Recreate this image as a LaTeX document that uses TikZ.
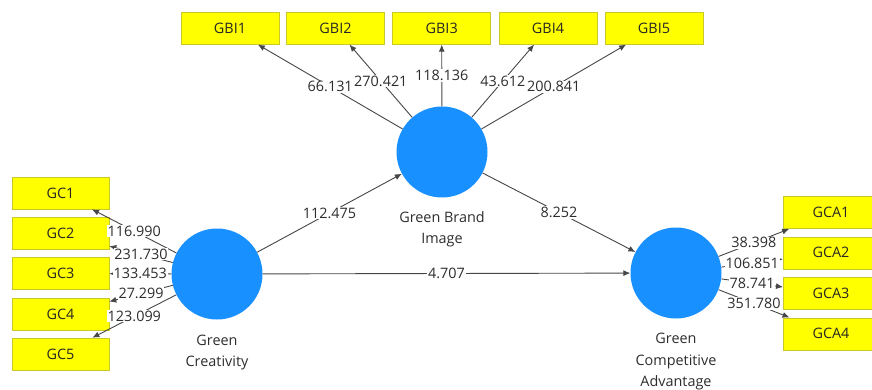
\documentclass[tikz,border=0pt]{standalone}
\usepackage{fontspec}
\setmainfont{Open Sans}
\usetikzlibrary{arrows.meta}
\definecolor{lvblue}{RGB}{24,144,255}
\definecolor{indyel}{RGB}{255,255,0}
\definecolor{indbord}{RGB}{200,200,40}
\definecolor{edgegray}{RGB}{70,70,70}
\definecolor{txtgray}{RGB}{45,45,45}
\begin{document}
\begin{tikzpicture}[x=1pt,y=-1pt,
  latent/.style={circle, fill=lvblue, minimum size=91pt, inner sep=0pt},
  lvlabel/.style={align=center, text=txtgray, inner sep=0pt, font=\fontsize{14.4}{21.5}\selectfont},
  indbox/.style={rectangle, fill=indyel, draw=indbord, line width=0.6pt, minimum height=32pt, inner sep=0pt, text=black!85, font=\fontsize{14.4}{17}\selectfont},
  gcbox/.style={indbox, minimum width=97pt},
  gbibox/.style={indbox, minimum width=98pt},
  gcabox/.style={indbox, minimum width=95.4pt},
  lnk/.style={draw=edgegray, line width=0.9pt, -{Latex[length=7pt,width=6pt]}},
  wt/.style={fill=white, inner sep=0.8pt, text=txtgray, font=\fontsize{14.4}{17}\selectfont}
]
\useasboundingbox (0,0) rectangle (872,390);
\clip (0,0) rectangle (872,390);

% latent variables
\node[latent] (GC)  at (217,274) {};
\node[latent] (GBI) at (442,152) {};
\node[latent] (GCA) at (676,273) {};
\node[lvlabel] (GCl)  at (217,352.5) {Green\\Creativity};
\node[lvlabel] (GBIl) at (442,229.5) {Green Brand\\Image};
\node[lvlabel] (GCAl) at (676,362) {Green\\Competitive\\Advantage};

% indicators
\node[gcbox] (GC1) at (60.5,193) {GC1};
\node[gcbox] (GC2) at (60.5,233.5) {GC2};
\node[gcbox] (GC3) at (60.5,273.5) {GC3};
\node[gcbox] (GC4) at (60.5,314) {GC4};
\node[gcbox] (GC5) at (60.5,354) {GC5};

\node[gbibox] (GBI1) at (230,28.3) {GBI1};
\node[gbibox] (GBI2) at (335.5,28.3) {GBI2};
\node[gbibox] (GBI3) at (441.7,28.3) {GBI3};
\node[gbibox] (GBI4) at (548,28.3) {GBI4};
\node[gbibox] (GBI5) at (654,28.3) {GBI5};

\node[gcabox] (GCA1) at (831,212.7) {GCA1};
\node[gcabox] (GCA2) at (831,252.8) {GCA2};
\node[gcabox] (GCA3) at (831,293.3) {GCA3};
\node[gcabox] (GCA4) at (831,333.8) {GCA4};

% outer model
\draw[lnk] (GC) -- node[wt] {116.990} (GC1);
\draw[lnk] (GC) -- node[wt] {231.730} (GC2);
\draw[lnk] (GC) -- node[wt] {133.453} (GC3);
\draw[lnk] (GC) -- node[wt] {27.299} (GC4);
\draw[lnk] (GC) -- node[wt] {123.099} (GC5);

\draw[lnk] (GBI) -- node[wt] {66.131} (GBI1);
\draw[lnk] (GBI) -- node[wt] {270.421} (GBI2);
\draw[lnk] (GBI) -- node[wt] {118.136} (GBI3);
\draw[lnk] (GBI) -- node[wt] {43.612} (GBI4);
\draw[lnk] (GBI) -- node[wt] {200.841} (GBI5);

\draw[lnk] (GCA) -- node[wt] {38.398} (GCA1);
\draw[lnk] (GCA) -- node[wt] {106.851} (GCA2);
\draw[lnk] (GCA) -- node[wt] {78.741} (GCA3);
\draw[lnk] (GCA) -- node[wt] {351.780} (GCA4);

% inner model
\draw[lnk] (GC) -- node[wt] {112.475} (GBI);
\draw[lnk] (GBI) -- node[wt] {8.252} (GCA);
\draw[lnk] (GC) -- node[wt] {4.707} (GCA);
\end{tikzpicture}
\end{document}
